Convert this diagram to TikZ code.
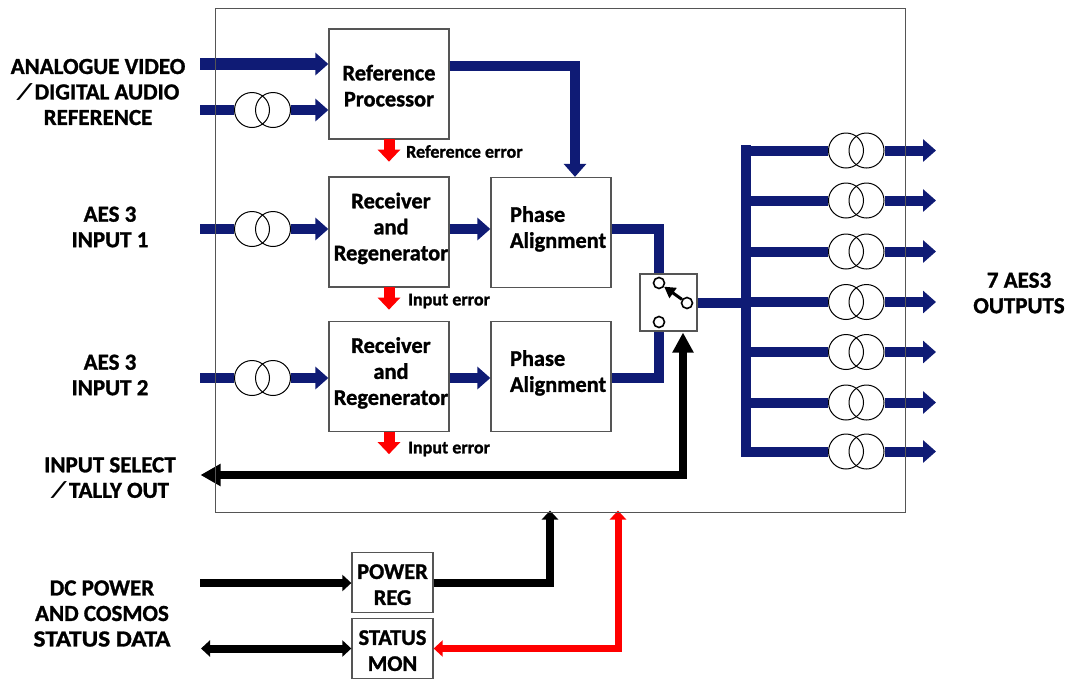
\documentclass[tikz,border=0pt]{standalone}
\usepackage{xcolor}
\usepackage{fontspec}
\setmainfont[BoldFeatures={FakeBold=1.2}]{Carlito}
\usepackage{tikz}
\usetikzlibrary{arrows.meta, positioning}
\definecolor{sigblue}{RGB}{15,27,117}
\definecolor{boxgray}{RGB}{85,85,85}
\newcommand{\wideslash}{\scalebox{1.8}[1]{\mdseries /}\hspace{2pt}}
\newcommand{\lineup}{\rule[-11pt]{0pt}{0pt}}
\newcommand{\linedown}{\rule{0pt}{19pt}}

\begin{document}
\begin{tikzpicture}[
        x=1pt, y=-1pt,
        lbl/.style={align=center, font=\fontsize{23}{25.5}\selectfont\bfseries, inner sep=0},
        errlbl/.style={anchor=west, font=\fontsize{18}{20}\selectfont\bfseries, inner sep=0},
        block/.style={rectangle, draw=boxgray, fill=white, line width=1.3pt, minimum width=120pt, minimum height=110pt, inner sep=0, align=center, font=\fontsize{22.4}{26}\selectfont\bfseries},
        smallblock/.style={block, minimum width=81pt, minimum height=60pt},
        xfmr/.style={circle, draw, line width=1pt, minimum size=35pt, inner sep=0},
        contact/.style={circle, draw, fill=white, line width=1.6pt, minimum size=11pt, inner sep=0},
        bluewire/.style={color=sigblue, line width=10pt},
        bluearrow/.style={bluewire, -{Triangle[length=13pt,width=22pt]}},
        errarrow/.style={red, line width=11pt, -{Triangle[length=12pt,width=22pt]}},
        blackarrow/.style={black, line width=8pt, -{Triangle[length=9pt,width=16pt]}},
        redarrow/.style={red, line width=7pt, -{Triangle[length=9pt,width=16pt]}}
    ]
    \useasboundingbox (0,0) rectangle (1074,681);

    \node (refin) [lbl] at (98,92) {ANALOGUE VIDEO\\\wideslash DIGITAL AUDIO\\REFERENCE};
    \node (aes1in) [lbl] at (110,227) {AES 3\\INPUT 1};
    \node (aes2in) [lbl] at (110,375) {AES 3\\INPUT 2};
    \node (selin) [lbl] at (110,478) {INPUT SELECT\\\wideslash TALLY OUT};
    \node (dcin) [lbl] at (102,613.5) {DC POWER\\AND COSMOS\\\scalebox{1.1}[1]{STATUS DATA}};
    \node (aesout) [lbl] at (1019,293) {7 AES3\\OUTPUTS};

    \node (refproc) [block] at (389,84) {\linedown Reference\\Processor};
    \node (recv1) [block] at (389,232) {\hspace*{4pt}Receiver\\\hspace*{4pt}and\\\hspace*{4pt}Regenerator\lineup};
    \node (recv2) [block] at (389,376.5) {\hspace*{4pt}Receiver\\\hspace*{4pt}and\\\hspace*{4pt}Regenerator\lineup};
    \node (phase1) [block, text width=120pt, align=left] at (551,232.5) {\hspace*{19pt}Phase\\\hspace*{19pt}Alignment\lineup};
    \node (phase2) [block, text width=120pt, align=left] at (551,376.5) {\hspace*{19pt}Phase\\\hspace*{19pt}Alignment\lineup};
    \node (powerreg) [smallblock] at (392.5,582.5) {\linedown POWER\\REG};
    \node (statusmon) [smallblock] at (392.5,648.5) {\linedown STATUS\\MON};

    \node (sw) [rectangle, draw=boxgray, fill=white, line width=1.3pt, minimum size=57pt, inner sep=0] at (668.5,302.5) {};
    \node (conta) [contact] at (659,283) {};
    \node (contb) [contact] at (659,322) {};
    \node (contc) [contact] at (687,303) {};

    \node (refx1) [xfmr] at (252,110) {};
    \node (refx2) [xfmr] at (273,110) {};
    \node (aes1x1) [xfmr] at (252,229) {};
    \node (aes1x2) [xfmr] at (273,229) {};
    \node (aes2x1) [xfmr] at (252,378) {};
    \node (aes2x2) [xfmr] at (273,378) {};

    \coordinate (refa) at (200,64);
    \coordinate (refb) at (200,110);
    \coordinate (aes1) at (200,229);
    \coordinate (aes2) at (200,378);
    \coordinate (sel) at (200.5,475);
    \coordinate (dc) at (200,583);
    \coordinate (status) at (201,648.5);
    \coordinate (bustop) at (746,145);
    \coordinate (busbot) at (746,457);
    \coordinate (reftap) at (575,66);
    \coordinate (chassispwr) at (550,510.5);
    \coordinate (chassissts) at (618,510.5);

    \draw [bluearrow, line width=11.5pt] (refa) -- (refproc.west |- refa);
    \draw [bluewire] (refb) -- (refx1);
    \draw [bluearrow] (refx2) -- (refproc.west |- refx2);
    \draw [bluewire] (aes1) -- (aes1x1);
    \draw [bluearrow] (aes1x2) -- (recv1.west |- aes1x2);
    \draw [bluewire] (aes2) -- (aes2x1);
    \draw [bluearrow] (aes2x2) -- (recv2.west |- aes2x2);

    \draw [bluearrow] (refproc.east |- reftap) -- (reftap) -- (phase1.north -| reftap);
    \draw [bluearrow] (recv1.east |- aes1x2) -- (phase1.west |- aes1x2);
    \draw [bluearrow] (recv2.east |- aes2x2) -- (phase2.west |- aes2x2);
    \draw [bluewire] (phase1.east |- aes1x2) -| (conta |- sw.north);
    \draw [bluewire] (phase2.east |- aes2x2) -| (contb |- sw.south);

    \draw [-{Triangle[length=11pt,width=12pt]}, line width=3pt] (contc) -- (conta);

    \node (referrtip) [below=22pt of refproc, inner sep=0] {};
    \node (err1tip) [below=22pt of recv1, inner sep=0] {};
    \node (err2tip) [below=22pt of recv2, inner sep=0] {};
    \draw [errarrow] (refproc) ++(0,55) -- (referrtip);
    \draw [errarrow] (recv1) ++(0,55) -- (err1tip);
    \draw [errarrow] (recv2) ++(0,55) -- (err2tip);
    \node (referr) [errlbl] at (406,151.5) {Reference error};
    \node (err1) [errlbl] at (408,301) {Input error};
    \node (err2) [errlbl] at (408,449) {Input error};

    \draw [bluewire] (bustop) -- (busbot);
    \draw [bluewire] (sw.east |- contc) -- (bustop |- contc);
    \foreach \n/\y in {1/150.5, 2/200.5, 3/251.5, 4/302, 5/352, 6/402.5, 7/451.5} {
        \node (out\n x1) [xfmr] at (846,\y) {};
        \node (out\n x2) [xfmr] at (866.5,\y) {};
        \coordinate (out\n) at (936,\y);
        \draw [bluewire] ([xshift=-5pt]bustop |- out\n x1) -- (out\n x1);
        \draw [bluearrow] (out\n x2) -- (out\n);
    }

    \draw [black, line width=8.5pt, {Triangle[length=20pt,width=21pt]}-{Triangle[length=20pt,width=20pt]}] (sel) -| (683,332.5);

    \draw [blackarrow] (dc) -- (powerreg.west |- dc);
    \draw [blackarrow, {Triangle[length=9pt,width=16pt]}-{Triangle[length=9pt,width=16pt]}] (status) -- (statusmon.west |- status);
    \draw [blackarrow] (powerreg.east |- dc) -| (chassispwr);
    \draw [redarrow, {Triangle[length=9pt,width=16pt]}-{Triangle[length=9pt,width=16pt]}] (statusmon.east |- status) -| (chassissts);

    \node (frame) [rectangle, draw=boxgray, line width=1.3pt, minimum width=690pt, minimum height=504pt, inner sep=0] at (560.5,260.5) {};

\end{tikzpicture}
\end{document}
